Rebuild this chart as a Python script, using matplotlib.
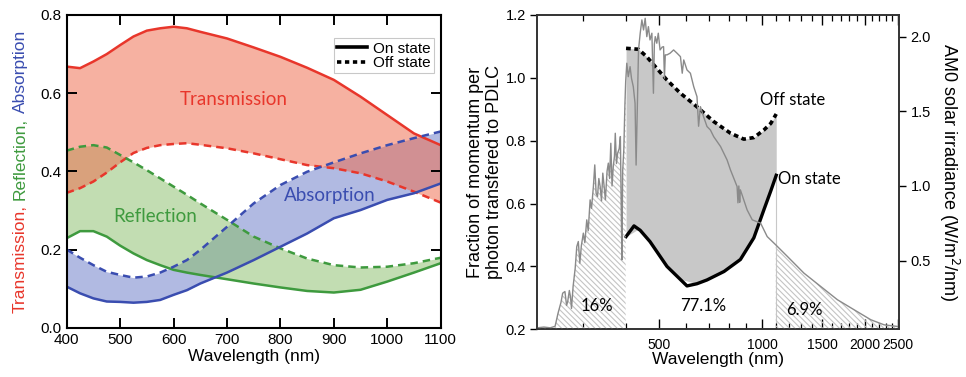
import numpy as np
import matplotlib
matplotlib.use("Agg")
import matplotlib.pyplot as plt
from matplotlib.ticker import FixedLocator, FixedFormatter, NullFormatter
from matplotlib.lines import Line2D

# ---------------- data: left panel ----------------
wl_left = [400, 425, 450, 475, 500, 525, 550, 575, 600, 625, 650, 700, 750, 800, 850, 900, 950, 1000, 1050, 1100]
T_on  = [0.668, 0.664, 0.681, 0.700, 0.723, 0.745, 0.760, 0.766, 0.770, 0.766, 0.757, 0.740, 0.717, 0.693, 0.665, 0.634, 0.591, 0.544, 0.497, 0.467]
T_off = [0.345, 0.357, 0.374, 0.397, 0.423, 0.447, 0.460, 0.467, 0.470, 0.472, 0.468, 0.459, 0.446, 0.431, 0.416, 0.408, 0.395, 0.374, 0.348, 0.320]
R_on  = [0.229, 0.247, 0.247, 0.233, 0.210, 0.190, 0.173, 0.160, 0.148, 0.141, 0.135, 0.124, 0.113, 0.103, 0.094, 0.090, 0.097, 0.118, 0.141, 0.165]
R_off = [0.453, 0.463, 0.467, 0.461, 0.442, 0.423, 0.403, 0.382, 0.361, 0.340, 0.318, 0.276, 0.233, 0.203, 0.177, 0.160, 0.154, 0.156, 0.165, 0.179]
A_on  = [0.105, 0.088, 0.075, 0.067, 0.066, 0.064, 0.066, 0.071, 0.084, 0.096, 0.113, 0.141, 0.173, 0.207, 0.241, 0.280, 0.301, 0.327, 0.344, 0.369]
A_off = [0.200, 0.179, 0.160, 0.143, 0.135, 0.128, 0.131, 0.141, 0.156, 0.173, 0.199, 0.258, 0.318, 0.365, 0.399, 0.423, 0.446, 0.467, 0.485, 0.502]
left_xticks = [400, 500, 600, 700, 800, 900, 1000, 1100]
left_yticks = [0.0, 0.2, 0.4, 0.6, 0.8]

# ---------------- data: right panel ----------------
wl_off = [400, 435, 460, 527, 577, 645, 722, 808, 884, 946, 1012, 1060, 1100]
frac_off = [1.094, 1.091, 1.067, 0.993, 0.951, 0.908, 0.861, 0.824, 0.805, 0.810, 0.834, 0.855, 0.885]
wl_on = [400, 422, 440, 470, 527, 603, 645, 690, 774, 864, 946, 1012, 1060, 1100]
frac_on = [0.495, 0.529, 0.515, 0.479, 0.400, 0.338, 0.345, 0.357, 0.384, 0.422, 0.491, 0.580, 0.640, 0.690]

wl_sun = [220, 230, 240, 248, 253, 258, 261, 265, 268, 270, 273, 275, 277, 280, 284, 287, 290, 293, 296, 300,
          303, 307, 310, 314, 317, 321, 324, 327, 330, 333, 336, 339, 342, 345, 348, 352, 355, 358, 361, 364,
          367, 370, 372, 375, 378, 382, 385, 387, 389, 391, 394, 397, 399, 402, 406, 411, 415, 420, 425, 428,
          432, 435, 440, 445, 450, 455, 460, 465, 470, 476, 481, 484, 487, 492, 497, 503, 510, 515, 518, 521,
          527, 538, 551, 564, 577, 584, 590, 603, 617, 631, 645, 652, 660, 674, 690, 706, 722, 756, 790, 808,
          827, 845, 850, 855, 860, 864, 904, 936, 990, 1035, 1096, 1187, 1326, 1484, 1661, 1858, 2080, 2275, 2490]
irr_sun = [0.05, 0.055, 0.05, 0.06, 0.148, 0.22, 0.282, 0.293, 0.20, 0.226, 0.30, 0.260, 0.18, 0.327, 0.45, 0.594, 0.628, 0.483, 0.60, 0.684,
           0.62, 0.773, 0.70, 0.907, 0.85, 0.996, 1.141, 0.95, 0.929, 1.05, 0.996, 0.90, 1.086, 1.0, 0.907, 1.10, 1.153, 1.05, 1.286, 1.0,
           1.130, 1.20, 1.353, 1.15, 1.220, 1.25, 1.331, 0.9, 0.505, 1.1, 1.242, 1.55, 1.70, 1.822, 1.732, 1.799, 1.72, 1.665, 1.554, 1.14,
           1.576, 1.911, 2.023, 2.112, 2.045, 2.123, 2.0, 2.067, 1.978, 2.023, 1.621, 1.95, 2.0, 1.956, 2.023, 1.911, 1.93, 1.933, 1.722, 1.878,
           1.878, 1.889, 1.911, 1.889, 1.866, 1.755, 1.844, 1.777, 1.755, 1.665, 1.598, 1.40, 1.531, 1.465, 1.398, 1.375, 1.33, 1.264, 1.174, 1.108,
           1.05, 0.996, 0.887, 1.0, 0.89, 0.974, 0.84, 0.773, 0.751, 0.661, 0.606, 0.527, 0.416, 0.327, 0.238, 0.171, 0.104, 0.070, 0.059]
right_xticks = [500, 1000, 1500, 2000, 2500]
right_xminor = [300, 400, 600, 700, 800, 900, 1100, 1200, 1300, 1400, 1600, 1700, 1800, 1900, 2100, 2200, 2300, 2400]
right_yticks = [0.2, 0.4, 0.6, 0.8, 1.0, 1.2]
sun_yticks = [0.5, 1.0, 1.5, 2.0]
percent_labels = ["16%", "77.1%", "6.9%"]
percent_pos = [(328, 0.274), (672, 0.274), (1326, 0.261)]

# ---------------- style ----------------
RED, GREEN, BLUE = "#e8362b", "#3e9a3e", "#3a4db0"
ANNOT = "Lato"
AXF = "Liberation Sans"
plt.rcParams["font.family"] = [AXF, "DejaVu Sans"]
plt.rcParams["hatch.linewidth"] = 0.8

fig = plt.figure(figsize=(9.66, 3.77), dpi=100)
W, H = 966, 377

# ================= LEFT PANEL =================
ax = fig.add_axes([66.7 / W, 1 - 327.7 / H, 374 / W, 312.7 / H])
x = np.array(wl_left)
ax.fill_between(x, A_on, A_off, color="#6577c6", alpha=0.5, lw=0)
ax.fill_between(x, R_on, R_off, color="#86bd66", alpha=0.5, lw=0)
ax.fill_between(x, T_on, T_off, color="#ef6a4b", alpha=0.52, lw=0)
lw = 1.8
dash = (0, (3.0, 2.0))
ax.plot(x, T_on, color=RED, lw=lw)
ax.plot(x, T_off, color=RED, lw=lw, ls=dash)
ax.plot(x, R_on, color=GREEN, lw=lw)
ax.plot(x, R_off, color=GREEN, lw=lw, ls=dash)
ax.plot(x, A_on, color=BLUE, lw=lw)
ax.plot(x, A_off, color=BLUE, lw=lw, ls=dash)

ax.set_xlim(400, 1100)
ax.set_ylim(0, 0.8)
ax.set_xticks(left_xticks)
ax.set_yticks(left_yticks)
ax.set_yticklabels([f"{v:.1f}" for v in left_yticks])
ax.tick_params(direction="in", length=7, width=1.4, top=True, right=True, labelsize=11, pad=4)
for s in ax.spines.values():
    s.set_linewidth(1.5)
ax.set_xlabel("Wavelength (nm)", fontsize=12.5, labelpad=1)

ax.text(712, 0.583, "Transmission", color=RED, fontsize=13.5, family=ANNOT, ha="center", va="center")
ax.text(565, 0.284, "Reflection", color=GREEN, fontsize=13.5, family=ANNOT, ha="center", va="center")
ax.text(893, 0.337, "Absorption", color=BLUE, fontsize=13.5, family=ANNOT, ha="center", va="center")

handles = [Line2D([], [], color="black", lw=2.6), Line2D([], [], color="black", lw=2.6, ls=(0, (1.2, 1.0)))]
leg = ax.legend(handles, ["On state", "Off state"], loc="upper right", bbox_to_anchor=(0.982, 0.925),
                fontsize=11, frameon=True, fancybox=False, handlelength=2.0, handletextpad=0.4,
                borderpad=0.2, labelspacing=0.05, borderaxespad=0)
leg.get_frame().set_edgecolor("#bbbbbb")
leg.get_frame().set_linewidth(0.8)

# multicolour y label
parts = [("Transmission,", RED), ("Reflection,", GREEN), ("Absorption", BLUE)]
fig.canvas.draw()
renderer = fig.canvas.get_renderer()
texts = []
lengths = []
for s, c in parts:
    t = fig.text(0, 0, s, rotation=90, rotation_mode="anchor", ha="left", va="baseline",
                 color=c, fontsize=12.5, family=AXF)
    texts.append(t)
    lengths.append(t.get_window_extent(renderer).height)
gap = 5.0
total = sum(lengths) + gap * (len(parts) - 1)
center_y = H - 171.3
ystart = center_y - total / 2
for t, L in zip(texts, lengths):
    t.set_position((25.0 / W, ystart / H))
    ystart += L + gap

# ================= RIGHT PANEL =================
bx = fig.add_axes([537.3 / W, 1 - 329.3 / H, 362 / W, 314.3 / H])
bx.set_xscale("log")
bx.fill_between(wl_off, frac_off, np.interp(wl_off, wl_on, frac_on), color="#c8c8c8", lw=0, zorder=1)
bx.plot(wl_off, frac_off, color="black", lw=2.6, ls=(0, (1.3, 1.0)), zorder=3)
bx.plot(wl_on, frac_on, color="black", lw=2.4, zorder=3)
bx.vlines(1100, 0.2, frac_on[-1], color="#c8c8c8", lw=0.8, zorder=1)
bx.set_xlim(220, 2520)
bx.set_ylim(0.2, 1.2)
bx.xaxis.set_major_locator(FixedLocator(right_xticks))
bx.xaxis.set_major_formatter(FixedFormatter([str(v) for v in right_xticks]))
bx.xaxis.set_minor_locator(FixedLocator(right_xminor))
bx.xaxis.set_minor_formatter(NullFormatter())
bx.set_yticks(right_yticks)
bx.set_yticklabels([f"{v:.1f}" for v in right_yticks])
bx.tick_params(axis="x", which="major", direction="in", length=7, width=1.0, top=True, labelsize=10, pad=6)
bx.tick_params(axis="x", which="minor", direction="in", length=4, width=0.9, top=True)
bx.tick_params(axis="y", direction="out", length=5, width=1.0, labelsize=10.5, pad=3)
for s in bx.spines.values():
    s.set_linewidth(1.2)
    s.set_color("#333333")
bx.set_xlabel("Wavelength (nm)", fontsize=12.5, labelpad=0)
bx.set_ylabel("Fraction of momentum per\nphoton transfered to PDLC", fontsize=13, labelpad=2, linespacing=1.15)

cx = bx.twinx()
ws = np.array(wl_sun)
ir = np.array(irr_sun)
cx.fill_between(ws, ir, 0, where=ws <= 400, facecolor="none", edgecolor="#c4c4c4", hatch="\\" * 6, lw=0)
cx.fill_between(ws, ir, 0, where=ws >= 1096, facecolor="none", edgecolor="#c4c4c4", hatch="\\" * 6, lw=0)
cx.plot(ws, ir, color="#8a8a8a", lw=1.0)
cx.set_ylim(0.04, 2.145)
cx.set_yticks(sun_yticks)
cx.set_yticklabels([f"{v:.1f}" for v in sun_yticks])
cx.tick_params(axis="y", direction="out", length=5, width=1.0, labelsize=10.5, pad=3)
for s in cx.spines.values():
    s.set_linewidth(1.2)
    s.set_color("#333333")
cx.set_ylabel("AM0 solar irradiance (W/m$^2$/nm)", fontsize=13, rotation=270, labelpad=22)

# annotation texts drawn above the hatch, positioned in left-axis data units
for (px, py), lab in zip(percent_pos, percent_labels):
    cx.text(px, py, lab, fontsize=12, family=ANNOT, ha="center", va="center", zorder=5, transform=bx.transData)
cx.text(986, 0.93, "Off state", fontsize=12, family=ANNOT, ha="left", va="center", zorder=5, transform=bx.transData)
cx.text(1116, 0.678, "On state", fontsize=12, family=ANNOT, ha="left", va="center", zorder=5, transform=bx.transData)

fig.savefig("out.png", dpi=100)
